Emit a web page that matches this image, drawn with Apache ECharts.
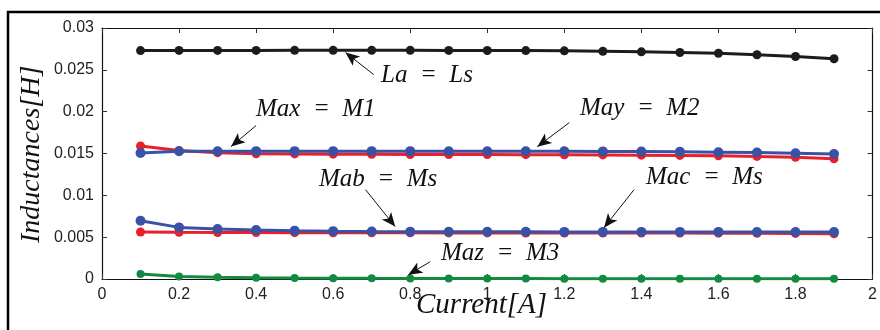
<!DOCTYPE html>
<html><head><meta charset="utf-8">
<script src="https://cdn.jsdelivr.net/npm/echarts@6/dist/echarts.min.js"></script>
<style>html,body{margin:0;padding:0;background:#fff}#c{width:880px;height:330px}</style>
</head><body><div id="c"></div>
<script>
const currents = [0.1,0.2,0.3,0.4,0.5,0.6,0.7,0.8,0.9,1.0,1.1,1.2,1.3,1.4,1.5,1.6,1.7,1.8,1.9];
const La  = [0.0273,0.02732,0.02732,0.02732,0.02733,0.02733,0.02733,0.02733,0.02732,0.02731,0.0273,0.02727,0.02722,0.02715,0.02707,0.02698,0.0268,0.02659,0.02632];
const Max = [0.0159,0.01535,0.0151,0.01497,0.01495,0.01492,0.0149,0.01488,0.01487,0.01487,0.01486,0.01485,0.01483,0.0148,0.01477,0.01472,0.01465,0.01455,0.01437];
const May = [0.01507,0.01527,0.01527,0.01528,0.01528,0.01528,0.01528,0.01528,0.01527,0.01527,0.01527,0.01526,0.01525,0.01523,0.0152,0.01516,0.01511,0.01503,0.01493];
const Mab = [0.00697,0.00617,0.00598,0.00586,0.00578,0.00572,0.00568,0.00566,0.00565,0.00564,0.00564,0.00563,0.00563,0.00563,0.00563,0.00563,0.00562,0.00562,0.00562];
const Mac = [0.00562,0.00558,0.00556,0.00555,0.00554,0.00553,0.00552,0.00552,0.00551,0.00551,0.0055,0.0055,0.0055,0.00549,0.00549,0.00548,0.00547,0.00545,0.0054];
const Maz = [0.0006,0.0003,0.0002,0.00015,0.00012,0.0001,0.00008,0.00007,0.00006,0.00005,0.00005,0.00004,0.00004,0.00004,0.00003,0.00003,0.00003,0.00003,0.00003];
const xTicks = [0,0.2,0.4,0.6,0.8,1,1.2,1.4,1.6,1.8,2];
const yTicks = [0,0.005,0.01,0.015,0.02,0.025,0.03];
// annotation arrows in data coords: [tailX, tailY, headX, headY]
const arrows = [
  [0.705,0.02444,0.632,0.02707],
  [0.40,0.01834,0.335,0.01583],
  [1.213,0.01869,1.130,0.01582],
  [0.684,0.01068,0.761,0.00626],
  [1.381,0.01068,1.303,0.00614],
  [0.852,0.00207,0.795,0.00051]
];
const labels = ['La  =  Ls','Max  =  M1','May  =  M2','Mab  =  Ms','Mac  =  Ms','Maz  =  M3'];

const zip = a => currents.map((x,i)=>[x,a[i]]);
const chart = echarts.init(document.getElementById('c'));
const labelFont = {fontFamily:'Liberation Sans, Arial, sans-serif', fontSize:16, color:'#222'};
function ser(name,data,color,size,z){
  return {name,type:'line',data:zip(data),symbol:'circle',symbolSize:size,
    lineStyle:{color,width:3},itemStyle:{color},z,animation:false};
}
const serFont = 'italic 25px "Liberation Serif", "DejaVu Serif", serif';
const textPos = [[381,63],[256,97],[580,96],[319,167],[646,165],[441,241]];
const tick = () => ({show:true,inside:true,length:5,lineStyle:{color:'#333',width:1}});
const line = () => ({show:true,onZero:false,lineStyle:{color:'#111',width:1.2}});
chart.setOption({
  animation:false,
  grid:{left:102,right:3,top:28,bottom:51},
  xAxis:[{type:'value',min:0,max:2,interval:0.2,
    axisLine:line(),axisTick:tick(),
    axisLabel:Object.assign({margin:8,formatter:v=>String(+v.toFixed(1))},labelFont),
    splitLine:{show:false}},
   {type:'value',min:0,max:2,interval:0.2,position:'top',
    axisLine:line(),axisTick:tick(),
    axisLabel:{show:false},splitLine:{show:false}}],
  yAxis:[{type:'value',min:0,max:0.03,interval:0.005,
    axisLine:line(),axisTick:tick(),
    axisLabel:Object.assign({margin:8,formatter:v=>String(+v.toFixed(3))},labelFont),
    splitLine:{show:false}},
   {type:'value',min:0,max:0.03,interval:0.005,position:'right',
    axisLine:line(),axisTick:tick(),
    axisLabel:{show:false},splitLine:{show:false}}],
  series:[
    ser('La',La,'#1c1c1c',9,5),
    ser('Max',Max,'#e8202a',9,3),
    ser('May',May,'#3a52a6',10,4),
    ser('Mac',Mac,'#e8202a',9,3),
    ser('Mab',Mab,'#3a52a6',10,4),
    Object.assign(ser('Maz',Maz,'#138a42',8,4),{
      markLine:{silent:true,animation:false,symbol:['none','arrow'],symbolSize:[9,14],
        label:{show:false},
        lineStyle:{color:'#111',width:1,type:'solid'},
        data:arrows.map(a=>[{coord:[a[0],a[1]]},{coord:[a[2],a[3]]}])}
    })
  ],
  graphic:[
    {type:'rect',shape:{x:8,y:12,width:900,height:400},style:{fill:'none',stroke:'#000',lineWidth:2.5},silent:true},
    ...labels.map((t,i)=>({type:'text',left:textPos[i][0],top:textPos[i][1],
      style:{text:t,font:serFont,fill:'#111'}})),
    {type:'text',left:416,top:291,style:{text:'Current[A]',font:'italic 29px "Liberation Serif", "DejaVu Serif", serif',fill:'#111'}},
    {type:'text',x:18,y:243,rotation:Math.PI/2,style:{text:'Inductances[H]',font:'italic 28px "Liberation Serif", "DejaVu Serif", serif',fill:'#111'}}
  ]
});
</script></body></html>
